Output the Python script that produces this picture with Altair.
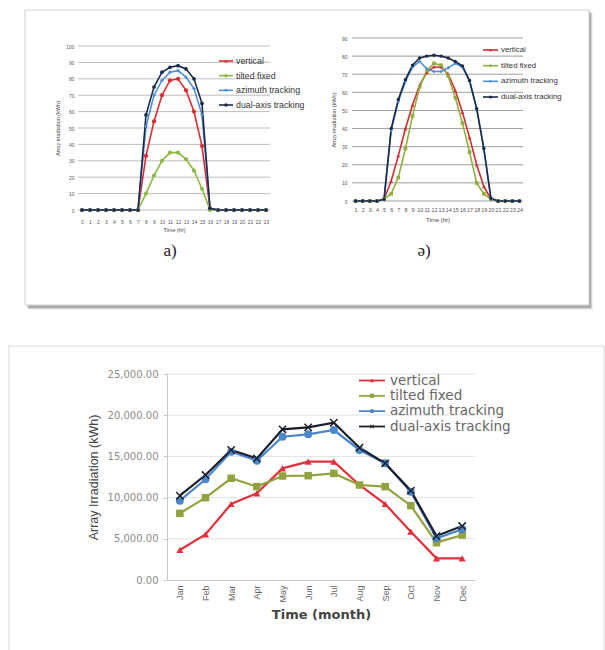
import altair as alt
import pandas as pd

series = ["vertical", "tilted fixed", "azimuth tracking", "dual-axis tracking"]
panel_labels = ["a)", "ə)"]

# ---- panel a) hourly (0..23)
hours_a = list(range(0, 24))
a_vertical = [0, 0, 0, 0, 0, 0, 0, 0, 33, 54, 70, 79, 80, 73, 60, 39, 1, 0, 0, 0, 0, 0, 0, 0]
a_tilted = [0, 0, 0, 0, 0, 0, 0, 0, 10, 21, 30, 35, 35, 31, 24, 13, 0, 0, 0, 0, 0, 0, 0, 0]
a_azimuth = [0, 0, 0, 0, 0, 0, 0, 0, 51, 70, 79, 84, 85, 81, 74, 58, 1, 0, 0, 0, 0, 0, 0, 0]
a_dual = [0, 0, 0, 0, 0, 0, 0, 0, 58, 75, 84, 87, 88, 86, 80, 65, 1, 0, 0, 0, 0, 0, 0, 0]
a_ticks = [0, 10, 20, 30, 40, 50, 60, 70, 80, 90, 100]

# ---- panel ə) hourly (1..24)
hours_b = list(range(1, 25))
b_vertical = [0, 0, 0, 0, 1, 11, 25, 40, 53, 64, 71, 74, 74, 70, 61, 49, 35, 20, 8, 1, 0, 0, 0, 0]
b_tilted = [0, 0, 0, 0, 1, 4, 13, 29, 47, 63, 72, 76, 75, 69, 57, 43, 27, 10, 4, 1, 0, 0, 0, 0]
b_azimuth = [0, 0, 0, 0, 1, 39, 55, 66, 74, 77, 73, 71.5, 71.5, 73.5, 76, 74, 66, 51, 29, 1, 0, 0, 0, 0]
b_dual = [0, 0, 0, 0, 1, 40, 56, 67, 75, 79, 80, 80.5, 80, 79, 77, 74.5, 66.5, 51, 29, 1.5, 0, 0, 0, 0]
b_ticks = [0, 10, 20, 30, 40, 50, 60, 70, 80, 90]

# ---- monthly panel
months = ["Jan", "Feb", "Mar", "Apr", "May", "Jun", "Jul", "Aug", "Sep", "Oct", "Nov", "Dec"]
m_vertical = [3640, 5540, 9220, 10520, 13550, 14360, 14360, 11530, 9220, 5870, 2630, 2630]
m_tilted = [8090, 9990, 12340, 11330, 12620, 12660, 12940, 11530, 11330, 9020, 4530, 5460]
m_azimuth = [9630, 12220, 15570, 14480, 17390, 17680, 18200, 15780, 14160, 10720, 5060, 6150]
m_dual = [10230, 12740, 15780, 14760, 18280, 18530, 19090, 16060, 14160, 10840, 5340, 6550]
m_ticks = [0, 5000, 10000, 15000, 20000, 25000]

XMARK = "M-1,-0.75L-0.75,-1L0,-0.25L0.75,-1L1,-0.75L0.25,0L1,0.75L0.75,1L0,0.25L-0.75,1L-1,0.75L-0.25,0Z"


def to_long(xs, lists):
    rows = []
    for s, vals in zip(series, lists):
        for x, v in zip(xs, vals):
            rows.append({"x": x, "series": s, "value": v})
    return pd.DataFrame(rows)


one = pd.DataFrame({"k": [0]})
leg_df = pd.DataFrame({"series": series})


def box(x0, x1, y0, y1, **kw):
    return alt.Chart(one).mark_rect(**kw).encode(
        x=alt.value(x0), x2=alt.value(x1), y=alt.value(y0), y2=alt.value(y1))


def panel(df, xdom, xr, ydom, yr, pal, shapes, sizes, xaxis, yaxis, grid_vals,
          gx0, gx1, grid_color, sw):
    xs = alt.Scale(type="point", domain=xdom, range=xr, padding=0.5)
    ys = alt.Scale(domain=ydom, range=yr, nice=False, zero=True)
    col = alt.Color("series:N", scale=alt.Scale(domain=series, range=pal), legend=None)
    grid = alt.Chart(pd.DataFrame({"v": grid_vals})).mark_rule(
        color=grid_color, strokeWidth=1).encode(
        y=alt.Y("v:Q", scale=ys, axis=None), x=alt.value(gx0), x2=alt.value(gx1))
    lines = alt.Chart(df).mark_line(strokeWidth=sw).encode(
        x=alt.X("x:O", scale=xs, axis=xaxis),
        y=alt.Y("value:Q", scale=ys, axis=yaxis),
        color=col)
    pts = alt.Chart(df).mark_point(filled=True, opacity=1).encode(
        x=alt.X("x:O", scale=xs, axis=None),
        y=alt.Y("value:Q", scale=ys, axis=None),
        color=col,
        shape=alt.Shape("series:N", scale=alt.Scale(domain=series, range=shapes), legend=None),
        size=alt.Size("series:N", scale=alt.Scale(domain=series, range=sizes), legend=None))
    return [grid, lines, pts]


def legend(yr, x0, x1, xt, pal, shapes, msize, fsize, font, tcolor, sw):
    ysc = alt.Scale(type="point", domain=series, range=yr, padding=0)
    y = alt.Y("series:N", scale=ysc, axis=None)
    col = alt.Color("series:N", scale=alt.Scale(domain=series, range=pal), legend=None)
    rule = alt.Chart(leg_df).mark_rule(strokeWidth=sw).encode(
        x=alt.value(x0), x2=alt.value(x1), y=y, color=col)
    pt = alt.Chart(leg_df).mark_point(filled=True, opacity=1, size=msize).encode(
        x=alt.value((x0 + x1) / 2), y=y, color=col,
        shape=alt.Shape("series:N", scale=alt.Scale(domain=series, range=shapes), legend=None))
    txt = alt.Chart(leg_df).mark_text(align="left", baseline="middle", fontSize=fsize,
                                      font=font, color=tcolor).encode(
        x=alt.value(xt), y=y, text="series:N")
    return [rule, pt, txt]


H = 650
small_font = "Liberation Sans"

# ---------- panel a
pal_a = ["#dd2a2f", "#8cb842", "#4f8fd6", "#1d2a48"]
shp_a = ["circle", "circle", "diamond", "circle"]
axa_x = alt.Axis(orient="bottom", offset=210 - H, labelAngle=0, labelFontSize=5, labelFont=small_font,
                 labelColor="#555", labelPadding=9, labelOverlap=False, domain=False, ticks=False,
                 grid=False, title="Time (hr)", titleFontSize=5.5, titleFont=small_font,
                 titleColor="#444", titleFontWeight="normal", titlePadding=3, zindex=1)
axa_y = alt.Axis(orient="left", offset=-78, values=a_ticks, labelFontSize=5, labelFont=small_font,
                 labelColor="#555", labelPadding=4, domain=False, ticks=False, grid=False,
                 title="Array irradiation (kWh)", titleFontSize=5.5, titleFont=small_font,
                 titleColor="#444", titleFontWeight="normal", titlePadding=5, zindex=1)
layers_a = panel(to_long(hours_a, [a_vertical, a_tilted, a_azimuth, a_dual]), hours_a, [78, 270],
                 [0, 100], [210, 46], pal_a, shp_a, [18, 14, 18, 12], axa_x, axa_y, a_ticks,
                 78, 270, "#bdbdbd", 1.6)
leg_a = legend([61, 105], 219, 233, 236, pal_a, ["triangle-up", "circle", "diamond", "circle"],
               12, 8.8, small_font, "#333", 1.6)

# ---------- panel ə
pal_b = ["#d42a30", "#8fae3c", "#4a90d9", "#1b2948"]
shp_b = ["triangle-up", "square", "diamond", "circle"]
axb_x = alt.Axis(orient="bottom", offset=201 - H, labelAngle=0, labelFontSize=5.5, labelFont=small_font,
                 labelColor="#555", labelPadding=6, labelOverlap=False, domain=False, ticks=False,
                 grid=False, title="Time (hr)", titleFontSize=6, titleFont=small_font,
                 titleColor="#444", titleFontWeight="normal", titlePadding=4, zindex=1)
axb_y = alt.Axis(orient="left", offset=-352, values=b_ticks, labelFontSize=5, labelFont=small_font,
                 labelColor="#555", labelPadding=5, domain=False, ticks=False, grid=False,
                 title="Array irradiation (kWh)", titleFontSize=5.5, titleFont=small_font,
                 titleColor="#444", titleFontWeight="normal", titlePadding=5, zindex=1)
layers_b = panel(to_long(hours_b, [b_vertical, b_tilted, b_azimuth, b_dual]), hours_b, [352, 523],
                 [0, 90], [201, 38], pal_b, shp_b, [14, 12, 16, 10], axb_x, axb_y, b_ticks,
                 352, 523, "#9e9e9e", 1.6)
leg_b = legend([50, 97], 483, 498, 501, pal_b, ["triangle-up", "diamond", "diamond", "circle"],
               10, 7.8, small_font, "#333", 1.6)

# ---------- monthly panel
pal_m = ["#e0303c", "#93a23e", "#4a86c8", "#1b1d2c"]
shp_m = ["triangle-up", "square", "circle", XMARK]
axm_x = alt.Axis(orient="bottom", offset=580 - H, labelAngle=-90, labelFontSize=9, labelFont=small_font,
                 labelColor="#666", labelPadding=5, labelOverlap=False, domain=True, domainColor="#c8c8c8",
                 ticks=False, grid=False, title="Time (month)", titleFontSize=13,
                 titleFont="DejaVu Sans", titleFontWeight="bold", titleColor="#444",
                 titlePadding=6, zindex=1)
axm_y = alt.Axis(orient="left", offset=-167, values=m_ticks, format=",.2f", labelFontSize=10,
                 labelFont="DejaVu Sans", labelColor="#8a8a8a", labelPadding=5, domain=True,
                 domainColor="#c8c8c8", ticks=True, tickColor="#c8c8c8", tickSize=4, grid=False,
                 title="Array Irradiation (kWh)", titleFontSize=12.5,
                 titleFont="Liberation Sans Narrow, Arial Narrow, Liberation Sans",
                 titleFontWeight="normal", titleColor="#444", titlePadding=7, zindex=1)
layers_m = panel(to_long(months, [m_vertical, m_tilted, m_azimuth, m_dual]), months, [167, 475],
                 [0, 25000], [580, 374], pal_m, shp_m, [50, 70, 90, 95], axm_x, axm_y, m_ticks[1:],
                 167, 475, "#e2e2e2", 2.2)
leg_m = legend([380.5, 426.5], 359, 385, 390, pal_m, ["triangle-up", "square", "circle", XMARK],
               18, 13.5, "DejaVu Sans", "#666", 1.8)

# ---------- frames and panel captions
frames = [
    box(29, 593, 14, 310, fill="#000000", opacity=0.06),
    box(28, 592, 13, 309, fill="#000000", opacity=0.12),
    box(27, 591, 12, 308, fill="#000000", opacity=0.18),
    box(25, 589, 10, 305, fill="#ffffff", stroke="#d0d0d0", strokeWidth=1),
    box(9, 604, 346, 656, fill="#ffffff", stroke="#d8d8d8", strokeWidth=1),
]
cap_df = pd.DataFrame({"label": panel_labels, "cx": [170, 424]})
captions = alt.Chart(cap_df).mark_text(font="Liberation Serif", fontSize=17, color="#222",
                                       baseline="middle").encode(
    x=alt.X("cx:Q", scale=alt.Scale(domain=[0, 605], range=[0, 605]), axis=None),
    y=alt.value(251), text="label:N")

all_layers = frames + [captions] + layers_a + leg_a + layers_b + leg_b + layers_m + leg_m

chart = alt.layer(*all_layers).resolve_scale(
    x="independent", y="independent", color="independent", shape="independent", size="independent"
).properties(
    width=605, height=H, autosize=alt.AutoSizeParams(type="none"), padding=0,
    background="white"
).configure_view(stroke=None)

chart.save("out.html", embed_options={"renderer": "svg", "actions": False})
